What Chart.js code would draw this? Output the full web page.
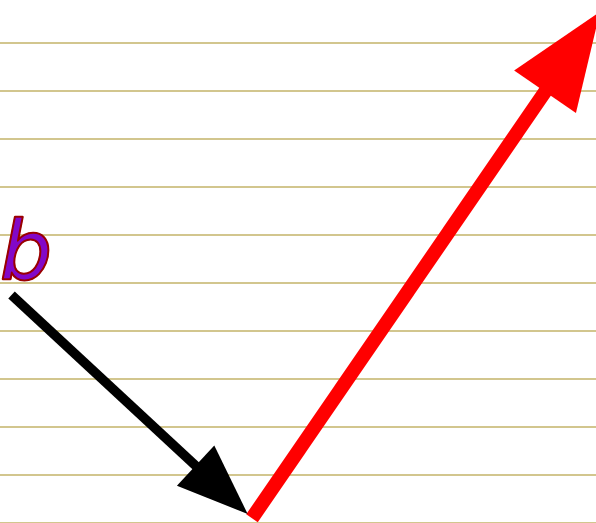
<!DOCTYPE html>
<html>
<head>
<meta charset="utf-8">
<script src="https://cdn.jsdelivr.net/npm/chart.js@4.4.1/dist/chart.umd.min.js"></script>
<style>
  html, body { margin: 0; padding: 0; background: #ffffff; }
  #wrap { width: 596px; height: 523px; }
</style>
</head>
<body>
<div id="wrap"><canvas id="vecChart" width="596" height="523"></canvas></div>
<script>
// visible range of the plane (1 unit = one ruled line spacing)
const xRange = [0, 12.417];
const yRange = [0, 10.896];
const gridStep = 1;

// arrows: black one is b, red one goes up to the right
const arrowStartX = [0.24, 5.25];
const arrowStartY = [4.75, 0.10];
const arrowTipX = [5.16, 12.50];
const arrowTipY = [0.19, 10.65];
const arrowColors = ['#000000', '#ff0000'];

// text label
const labelText = ['b'];
const labelX = [0.0];
const labelY = [5.08];

// styles
const shaftWidth = [9.5, 14];
const headLen = [71, 97];   // px
const headWidth = [55, 75]; // px
const pxPerUnit = 596 / (xRange[1] - xRange[0]);

// shafts stop at the base of the head
const shaftSets = arrowStartX.map((sx, i) => {
  const dx = arrowTipX[i] - sx, dy = arrowTipY[i] - arrowStartY[i];
  const len = Math.hypot(dx, dy);
  const back = headLen[i] / pxPerUnit * 0.9;
  return {
    data: [
      { x: sx, y: arrowStartY[i] },
      { x: arrowTipX[i] - dx / len * back, y: arrowTipY[i] - dy / len * back }
    ],
    showLine: true,
    borderColor: arrowColors[i],
    backgroundColor: arrowColors[i],
    borderWidth: shaftWidth[i],
    borderCapStyle: 'butt',
    pointRadius: 0,
    clip: false
  };
});

// heads + label
const arrowHeads = {
  id: 'arrowHeads',
  afterDatasetsDraw(chart) {
    const ctx = chart.ctx;
    const xs = chart.scales.x, ys = chart.scales.y;
    ctx.save();
    arrowStartX.forEach((sx, i) => {
      const x0 = xs.getPixelForValue(sx), y0 = ys.getPixelForValue(arrowStartY[i]);
      const x1 = xs.getPixelForValue(arrowTipX[i]), y1 = ys.getPixelForValue(arrowTipY[i]);
      const len = Math.hypot(x1 - x0, y1 - y0);
      const ux = (x1 - x0) / len, uy = (y1 - y0) / len;
      const bx = x1 - ux * headLen[i], by = y1 - uy * headLen[i];
      const hw = headWidth[i] / 2;
      ctx.beginPath();
      ctx.moveTo(x1, y1);
      ctx.lineTo(bx - uy * hw, by + ux * hw);
      ctx.lineTo(bx + uy * hw, by - ux * hw);
      ctx.closePath();
      ctx.fillStyle = arrowColors[i];
      ctx.fill();
    });
    labelText.forEach((t, i) => {
      ctx.font = 'italic 82px "DejaVu Sans"';
      ctx.textBaseline = 'alphabetic';
      ctx.textAlign = 'left';
      const px = xs.getPixelForValue(labelX[i]), py = ys.getPixelForValue(labelY[i]);
      ctx.lineWidth = 2.5;
      ctx.strokeStyle = '#9a0000';
      ctx.lineJoin = 'round';
      ctx.strokeText(t, px, py);
      ctx.fillStyle = '#8208c8';
      ctx.fillText(t, px, py);
      ctx.lineWidth = 1.5;
      ctx.strokeText(t, px, py);
    });
    ctx.restore();
  }
};

new Chart(document.getElementById('vecChart'), {
  type: 'scatter',
  data: { datasets: shaftSets },
  options: {
    responsive: false,
    animation: false,
    layout: { padding: 0 },
    plugins: { legend: { display: false }, tooltip: { enabled: false } },
    scales: {
      x: { type: 'linear', min: xRange[0], max: xRange[1], display: false },
      y: {
        type: 'linear',
        min: yRange[0],
        max: yRange[1],
        border: { display: false },
        grid: { color: '#d2c68e', lineWidth: 2, drawTicks: false },
        ticks: { display: false, stepSize: gridStep, includeBounds: false }
      }
    }
  },
  plugins: [arrowHeads]
});
</script>
</body>
</html>
